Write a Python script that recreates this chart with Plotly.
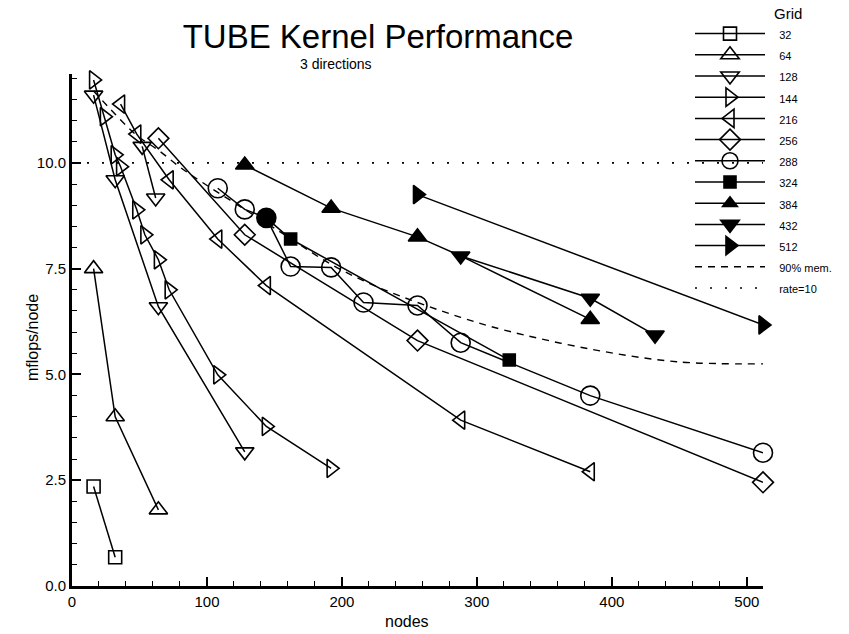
import plotly.graph_objects as go

# ---- data ----
n32_x = [16, 32];            n32_y = [2.35, 0.68]
n64_x = [16, 32, 64];        n64_y = [7.5, 4.0, 1.8]
n128_x = [16, 32, 64, 128, None, 52, 62]
n128_y = [11.6, 9.6, 6.6, 3.17, None, 10.39, 9.17]
n144_x = [16, 24, 32, 36, 48, 54, 64, 72, 108, 144, 192]
n144_y = [11.96, 11.09, 10.19, 9.91, 8.89, 8.3, 7.71, 7.0, 4.99, 3.77, 2.78]
n216_x = [36, 48, 72, 108, 144, 288, 384]
n216_y = [11.39, 10.68, 9.6, 8.2, 7.1, 3.92, 2.7]
n256_x = [64, 128, 256, 512]
n256_y = [10.58, 8.3, 5.8, 2.45]
n288_x = [108, 128, 144, 162, 192, 216, 256, 288, 384, 512]
n288_y = [9.4, 8.9, 8.7, 7.55, 7.53, 6.7, 6.63, 5.75, 4.5, 3.15]
n324_x = [144, 162, 324];    n324_y = [8.7, 8.2, 5.34]
n384_x = [128, 192, 256, 288, 384]
n384_y = [9.95, 8.93, 8.25, 7.8, 6.3]
n432_x = [288, 384, 432];    n432_y = [7.8, 6.8, 5.93]
n512_x = [256, 512];         n512_y = [9.25, 6.17]
mem_x = [16, 32, 48, 64, 80, 96, 128, 160, 192, 224, 256, 288, 320, 384, 448, 512]
mem_y = [11.7, 11.15, 10.65, 10.3, 9.9, 9.55, 8.9, 8.25, 7.6, 7.1, 6.7, 6.35, 6.05, 5.6, 5.3, 5.25]
rate_x = [0, 512];           rate_y = [10, 10]
filled_x = [144];            filled_y = [8.7]

FONT = "Liberation Sans, Arial, sans-serif"
LW = 1.5

fig = go.Figure()

def lab(t):
    return '<span style="font-size:11px">&nbsp;&nbsp;&nbsp;' + t + '</span>'

def series(name, x, y, symbol, size, sizes=None):
    fig.add_trace(go.Scatter(
        x=x, y=y, name=lab(name), mode="lines+markers",
        line=dict(color="black", width=LW),
        marker=dict(symbol=symbol, size=sizes if sizes else size, color="black",
                    opacity=1, line=dict(color="black", width=1.6)),
        connectgaps=False, cliponaxis=False,
    ))

series("32", n32_x, n32_y, "square-open", 13)
series("64", n64_x, n64_y, "triangle-up-open", 16)
series("128", n128_x, n128_y, "triangle-down-open", 16)
series("144", n144_x, n144_y, "triangle-right-open", 16)
series("216", n216_x, n216_y, "triangle-left-open", 16)
series("256", n256_x, n256_y, "diamond-open", 16)
series("288", n288_x, n288_y, "circle-open", 19)
series("324", n324_x, n324_y, "square", 12)
series("384", n384_x, n384_y, "triangle-up", 16, sizes=[16, 16, 16, 0, 16])
series("432", n432_x, n432_y, "triangle-down", 16)
series("512", n512_x, n512_y, "triangle-right", 16)

fig.add_trace(go.Scatter(x=mem_x, y=mem_y, name=lab("90% mem."), mode="lines",
                         line=dict(color="black", width=1.4, dash="7px,6px"),
                         line_shape="spline", cliponaxis=False))
fig.add_trace(go.Scatter(x=rate_x, y=rate_y, name=lab("rate=10"), mode="lines",
                         line=dict(color="black", width=1.6, dash="2px,13px"), cliponaxis=False))
fig.add_trace(go.Scatter(x=filled_x, y=filled_y, mode="markers", showlegend=False,
                         marker=dict(symbol="circle", size=19, color="black"), cliponaxis=False))

axis_common = dict(
    showgrid=False, zeroline=False, showline=True, linecolor="black", linewidth=3,
    ticks="inside", tickcolor="black", tickwidth=1.5, ticklen=9,
    tickfont=dict(family=FONT, size=15, color="black"),
)
fig.update_xaxes(range=[0, 512], dtick=100, tick0=0,
                 minor=dict(ticks="inside", dtick=20, ticklen=5, tickcolor="black", tickwidth=1.2),
                 **axis_common)
fig.update_yaxes(range=[0, 12.1], dtick=2.5, tick0=0, tickformat=".1f",
                 minor=dict(ticks="inside", dtick=0.5, ticklen=5, tickcolor="black", tickwidth=1.2),
                 **axis_common)

def ann(text, px, py, size, angle=0):
    return dict(text=text, xref="paper", yref="paper", x=(px-72)/691, y=(586-py)/512,
                xanchor="center", yanchor="middle", showarrow=False, textangle=angle,
                font=dict(family=FONT, size=size, color="black"))

fig.update_layout(
    width=849, height=634,
    margin=dict(l=72, r=86, t=74, b=48),
    paper_bgcolor="white", plot_bgcolor="white",
    font=dict(family=FONT, color="black"),
    title=dict(text="TUBE Kernel Performance", x=378/849, xanchor="center",
               y=1-36/634, yanchor="middle", font=dict(family=FONT, size=33, color="black")),
    legend=dict(x=(690-72)/691, xanchor="left", y=(586-18)/512, yanchor="top",
                font=dict(family=FONT, size=14, color="black"), bgcolor="rgba(0,0,0,0)",
                itemwidth=70, tracegroupgap=0),
    annotations=[
        ann("3 directions", 336, 64, 14),
        ann("Grid", 788, 13, 15),
        ann("nodes", 407, 621, 16),
        ann("mflops/node", 32, 338, 16, -90),
    ],
)

fig.write_html("out.html")
